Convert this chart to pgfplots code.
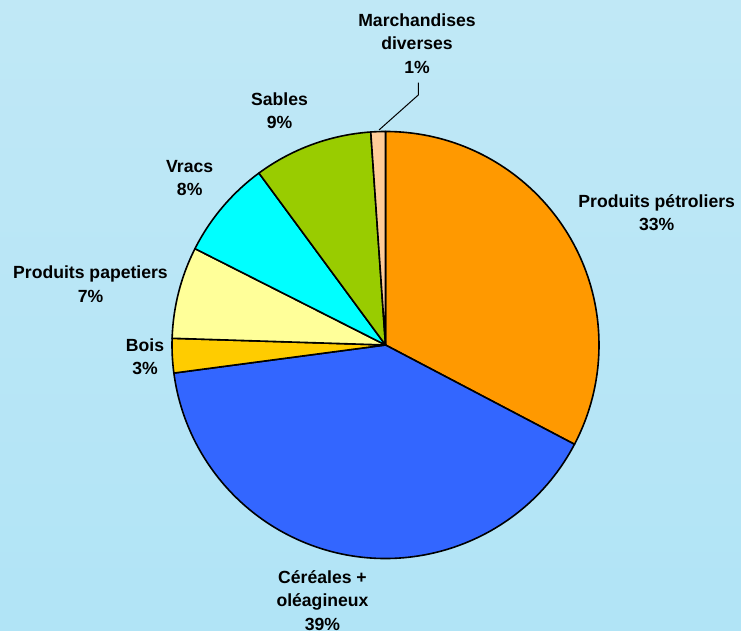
\documentclass[border=0pt]{standalone}
\usepackage{pgfplots}
\usepackage{pgfplotstable}
\pgfplotsset{compat=1.18}
\usepackage{fontspec}
\setmainfont{Liberation Sans}

\definecolor{bgtop}{HTML}{C0E8F6}
\definecolor{bgbot}{HTML}{B1E4F6}
\definecolor{cPet}{HTML}{FF9900}
\definecolor{cCer}{HTML}{3366FF}
\definecolor{cBois}{HTML}{FFCC00}
\definecolor{cPap}{HTML}{FFFF99}
\definecolor{cVrac}{HTML}{00FFFF}
\definecolor{cSab}{HTML}{99CC00}
\definecolor{cMar}{HTML}{FFCC99}

\tikzset{lbl/.style={font=\fontsize{8.8}{11.6}\selectfont\bfseries, align=center, inner sep=0pt}}

% shares in percent, clockwise from 12 o'clock
\pgfplotstableread[col sep=comma]{
share,col
32.7,cPet
40.2,cCer
2.6,cBois
6.95,cPap
7.45,cVrac
9.0,cSab
1.1,cMar
}\piedata

\begin{document}
\begin{tikzpicture}
\begin{axis}[
    name=pie,
    x=0.5pt, y=0.5pt,
    xmin=0, xmax=741, ymin=0, ymax=631,
    scale only axis, hide axis, clip=false,
]
\pgfplotsextra{
    \shade[top color=bgtop, bottom color=bgbot] (axis cs:0,0) rectangle (axis cs:741,631);
    \xdef\curang{90}
    \foreach \i in {0,...,6}{
        \pgfplotstablegetelem{\i}{share}\of\piedata
        \let\v\pgfplotsretval
        \pgfplotstablegetelem{\i}{col}\of\piedata
        \edef\c{\pgfplotsretval}
        \pgfmathsetmacro{\endang}{\curang-3.6*\v}
        \draw[fill=\c, line width=0.8pt, line join=round]
            (axis cs:385.5,286) -- ++(\curang:106.75pt)
            arc[start angle=\curang, end angle=\endang, radius=106.75pt] -- cycle;
        \xdef\curang{\endang}
    }
    \draw[line width=0.5pt] (axis cs:418.3,548.3) -- (axis cs:418.3,536) -- (axis cs:379,501);
}
\node[lbl] at (axis cs:417,587.3) {Marchandises\\diverses\\1\%};
\node[lbl] at (axis cs:279.5,520) {Sables\\9\%};
\node[lbl] at (axis cs:189.7,453) {Vracs\\8\%};
\node[lbl] at (axis cs:90.5,346.7) {Produits papetiers\\7\%};
\node[lbl] at (axis cs:145,274) {Bois\\3\%};
\node[lbl] at (axis cs:656.7,418) {Produits pétroliers\\33\%};
\node[lbl] at (axis cs:322.5,30.5) {Céréales +\\oléagineux\\39\%};
\end{axis}
\pgfresetboundingbox
\path[use as bounding box] (pie.south west) rectangle (pie.north east);
\end{tikzpicture}
\end{document}
